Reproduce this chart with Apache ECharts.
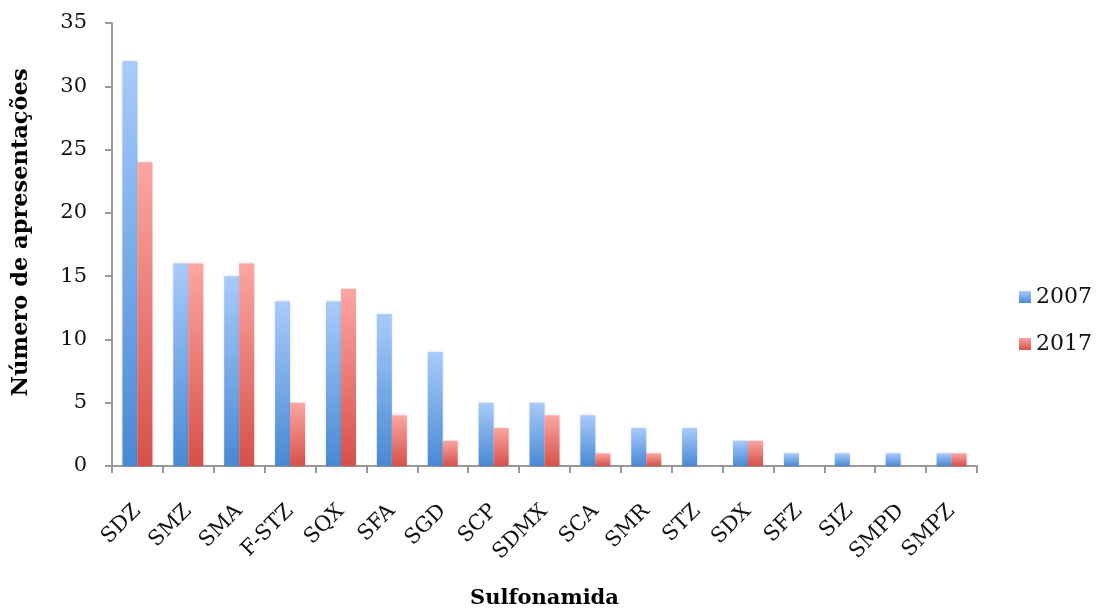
<!DOCTYPE html>
<html>
<head>
<meta charset="utf-8">
<script src="https://cdn.jsdelivr.net/npm/echarts@6/dist/echarts.min.js"></script>
<style>
  html, body { margin: 0; padding: 0; background: #fff; }
  #main { width: 1099px; height: 612px; }
</style>
</head>
<body>
<div id="main"></div>
<script>
var categories = ['SDZ', 'SMZ', 'SMA', 'F-STZ', 'SQX', 'SFA', 'SGD', 'SCP', 'SDMX', 'SCA', 'SMR', 'STZ', 'SDX', 'SFZ', 'SIZ', 'SMPD', 'SMPZ'];
var values2007 = [32, 16, 15, 13, 13, 12, 9, 5, 5, 4, 3, 3, 2, 1, 1, 1, 1];
var values2017 = [24, 16, 16, 5, 14, 4, 2, 3, 4, 1, 1, 0, 2, 0, 0, 0, 1];

var font = 'DejaVu Serif';

function grad(top, bottom) {
  return new echarts.graphic.LinearGradient(0, 0, 0, 1, [
    { offset: 0, color: top },
    { offset: 1, color: bottom }
  ]);
}

var chart = echarts.init(document.getElementById('main'));
var option = {
  animation: false,
  textStyle: { fontFamily: font },
  grid: { left: 112, top: 23, right: 122, bottom: 146, outerBoundsMode: 'none' },
  legend: {
    orient: 'vertical',
    left: 1014,
    top: 281,
    itemWidth: 12,
    itemHeight: 12,
    itemGap: 25,
    icon: 'rect',
    textStyle: { fontFamily: font, fontSize: 22, color: '#111' },
    data: ['2007', '2017']
  },
  xAxis: {
    type: 'category',
    data: categories,
    name: 'Sulfonamida',
    nameLocation: 'middle',
    nameGap: 122,
    nameTextStyle: { fontFamily: font, fontSize: 21, fontWeight: 'bold', color: '#000' },
    axisLine: { lineStyle: { color: '#999', width: 2 } },
    axisTick: { show: true, length: 7, lineStyle: { color: '#999', width: 2 } },
    axisLabel: { rotate: 45, fontSize: 21, color: '#111', margin: 42 }
  },
  yAxis: {
    type: 'value',
    min: 0,
    max: 35,
    interval: 5,
    name: 'Número de apresentações',
    nameLocation: 'middle',
    nameRotate: 90,
    nameGap: 79,
    nameTextStyle: { fontFamily: font, fontSize: 22.5, fontWeight: 'bold', color: '#000', padding: [0, 0, 0, 24] },
    axisLine: { show: true, lineStyle: { color: '#999', width: 2 } },
    axisTick: { show: true, length: 7, lineStyle: { color: '#999', width: 2 } },
    splitLine: { show: false },
    axisLabel: { fontSize: 21, color: '#111', margin: 25 }
  },
  series: [
    {
      name: '2007',
      type: 'bar',
      data: values2007,
      barWidth: 15,
      barGap: '0%',
      itemStyle: {
        color: grad('#a8cbfa', '#4889d4'),
        shadowBlur: 3,
        shadowColor: 'rgba(0,0,0,0.15)'
      }
    },
    {
      name: '2017',
      type: 'bar',
      data: values2017,
      barWidth: 15,
      barGap: '0%',
      itemStyle: {
        color: grad('#fba6a2', '#d6504a'),
        shadowBlur: 3,
        shadowColor: 'rgba(0,0,0,0.15)'
      }
    }
  ]
};
chart.setOption(option);
</script>
</body>
</html>
